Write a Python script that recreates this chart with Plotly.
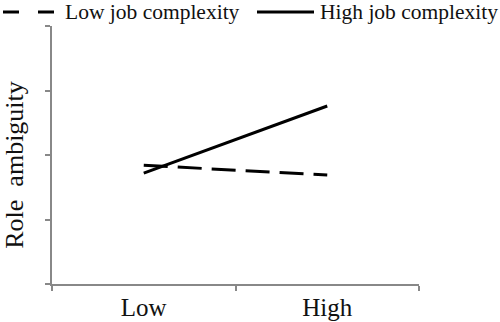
import plotly.graph_objects as go

categories = ["Low", "High"]
low_complexity = [1.84, 1.69]
high_complexity = [1.72, 2.76]
series_names = ["Low job complexity", "High job complexity"]
y_title = "Role&nbsp; ambiguity"

FONT = "Liberation Serif, Times New Roman, serif"
W, H = 500, 322
L, R, T, B = 52, 81, 26, 37.5
PW, PH = W - L - R, H - T - B


def px_x(px):
    return (px - L) / PW


def px_y(py):
    return (H - B - py) / PH


fig = go.Figure()
fig.add_trace(go.Scatter(x=categories, y=low_complexity, mode="lines", name=series_names[0],
                         line=dict(color="black", width=3, dash="24px,10px")))
fig.add_trace(go.Scatter(x=categories, y=high_complexity, mode="lines", name=series_names[1],
                         line=dict(color="black", width=3)))

# manual legend (layout decoration)
legend_y = px_y(12)
fig.add_shape(type="line", xref="paper", yref="paper", x0=px_x(3), x1=px_x(55), y0=legend_y, y1=legend_y,
              line=dict(color="black", width=3, dash="16px,19px"))
fig.add_shape(type="line", xref="paper", yref="paper", x0=px_x(257), x1=px_x(314), y0=legend_y, y1=legend_y,
              line=dict(color="black", width=3))
fig.add_annotation(xref="paper", yref="paper", x=px_x(64), y=legend_y, text=series_names[0],
                   showarrow=False, xanchor="left", yanchor="middle", borderpad=0,
                   font=dict(family=FONT, size=21.5, color="#111"))
fig.add_annotation(xref="paper", yref="paper", x=px_x(319), y=legend_y, text=series_names[1],
                   showarrow=False, xanchor="left", yanchor="middle", borderpad=0,
                   font=dict(family=FONT, size=21.5, color="#111"))
# y-axis title
fig.add_annotation(xref="paper", yref="paper", x=px_x(15), y=px_y(165), text=y_title, textangle=-90,
                   showarrow=False, xanchor="center", yanchor="middle", borderpad=0,
                   font=dict(family=FONT, size=26, color="#111"))

fig.update_layout(
    width=W, height=H,
    margin=dict(l=L, r=R, t=T, b=B),
    paper_bgcolor="white", plot_bgcolor="white",
    font=dict(family=FONT, color="#111"),
    showlegend=False,
)
fig.update_xaxes(type="category", range=[-0.5, 1.5], showline=True, linecolor="#888", linewidth=1.5,
                 ticks="outside", tickson="boundaries", ticklen=5, tickcolor="#888", tickwidth=1.5,
                 showgrid=False, zeroline=False, automargin=False,
                 tickfont=dict(family=FONT, size=25, color="#111"))
fig.update_yaxes(range=[0, 4], tickvals=[0, 1, 2, 3, 4], showticklabels=False,
                 showline=True, linecolor="#888", linewidth=1.5,
                 ticks="outside", ticklen=5, tickcolor="#888", tickwidth=1.5,
                 showgrid=False, zeroline=False, automargin=False)

fig.write_html("out.html", config={"displayModeBar": False},
               post_script="document.body.style.margin='0';document.body.style.padding='0';")
